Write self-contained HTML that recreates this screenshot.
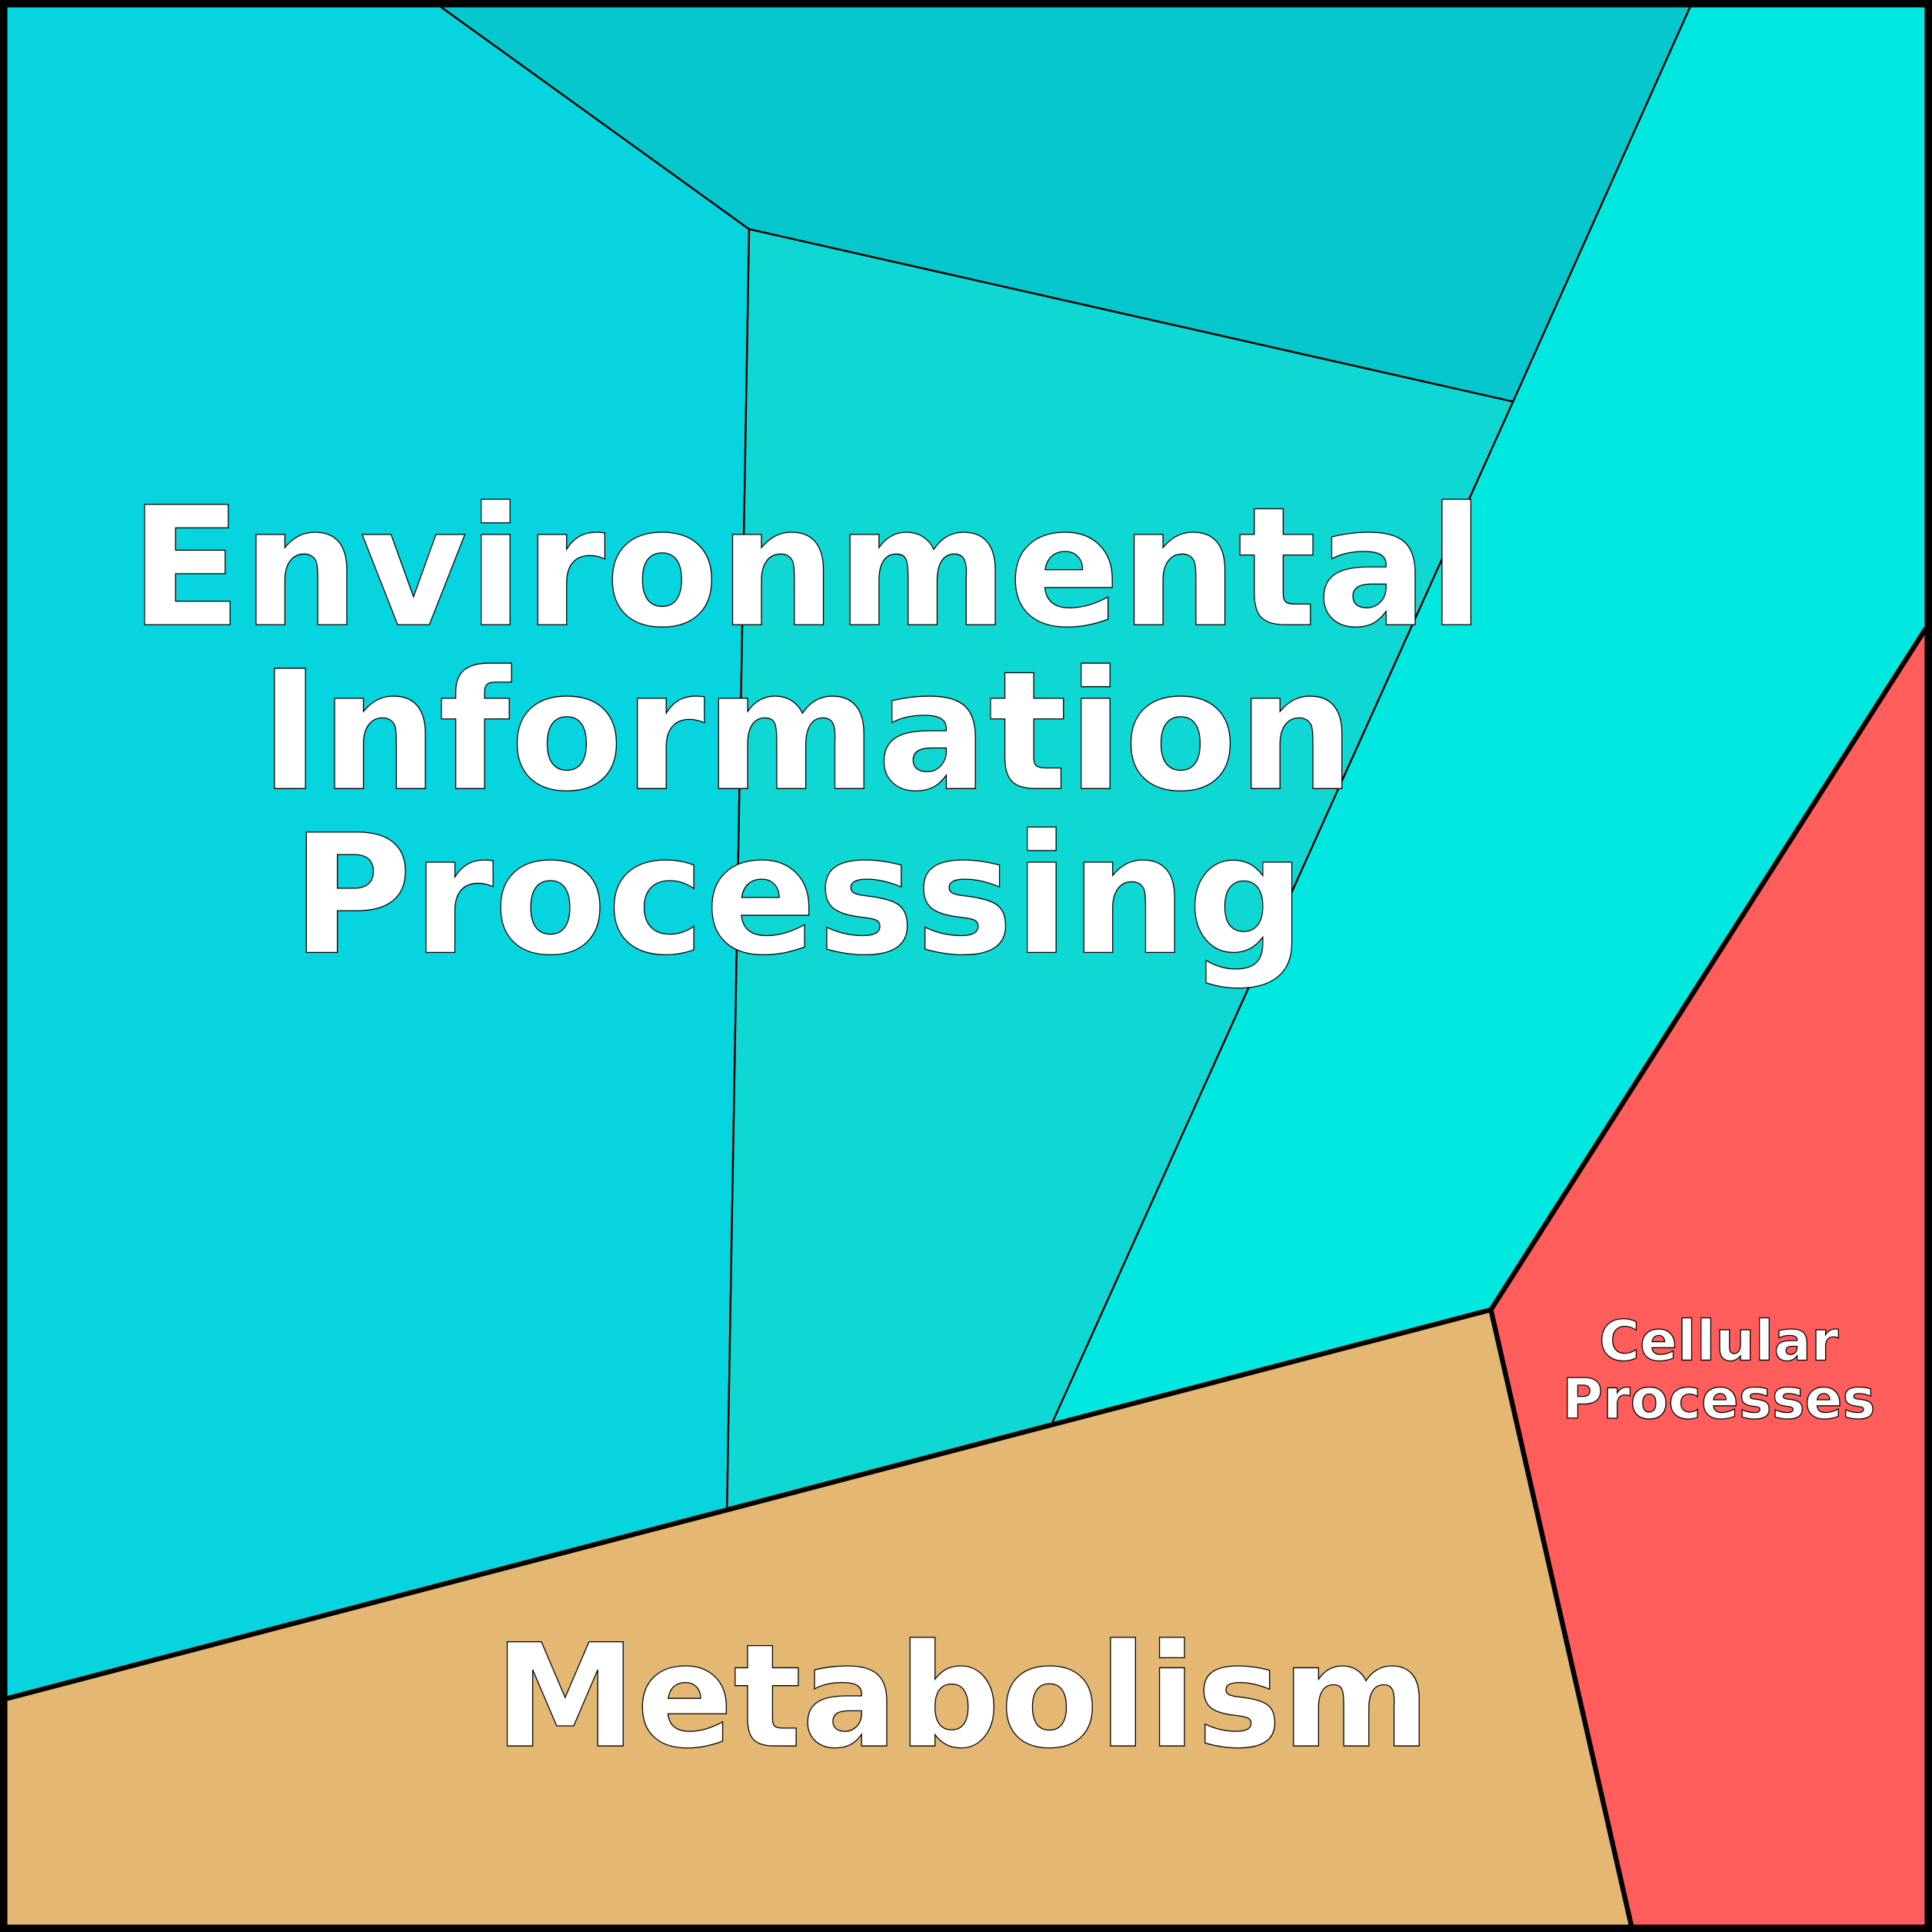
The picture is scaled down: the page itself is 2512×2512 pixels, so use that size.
<!DOCTYPE html>
<html><head><meta charset="utf-8"><style>html,body{margin:0;padding:0;background:#fff}svg{display:block}</style></head>
<body>
<svg width="2512" height="2512" viewBox="0 0 1568 1568" xmlns="http://www.w3.org/2000/svg">
<g stroke="#000" stroke-width="1.5" stroke-linejoin="round">
<polygon points="0,0 357,5 608,186 590,1225 0,1380" fill="#06D5DF"/>
<polygon points="357,5 1372,5 1228,326 608,186" fill="#06C8CC"/>
<polygon points="608,186 1228,326 853,1157 590,1225" fill="#0FD8D4"/>
<polygon points="1372,5 1563,5 1563,510 1210,1063 853,1157 1228,326" fill="#00E8E0"/>
<polygon points="1563,510 1563,1563 1324,1563 1210,1063" fill="#FF5C5C"/>
<polygon points="0,1380 1210,1063 1324,1563 0,1563" fill="#E4B872"/>
</g>
<g stroke="#000" stroke-width="4" fill="none">
<polyline points="0,1380 1210,1063 1563,510"/>
<polyline points="1210,1063 1324,1563"/>
</g>
<rect x="3" y="3" width="1562" height="1562" fill="none" stroke="#000" stroke-width="6"/>
<g font-family="'DejaVu Sans','Liberation Sans',sans-serif" font-weight="bold" fill="#fff" stroke="#000" stroke-width="0.8" text-anchor="middle">
<text x="655" y="507" font-size="134">Environmental</text>
<text x="655" y="640" font-size="134">Information</text>
<text x="648" y="773" font-size="134">Processing</text>
<text x="781" y="1417" font-size="116">Metabolism</text>
<text x="1395" y="1104" font-size="45">Cellular</text>
<text x="1395" y="1151" font-size="45">Processes</text>
</g>
</svg>
</body></html>
